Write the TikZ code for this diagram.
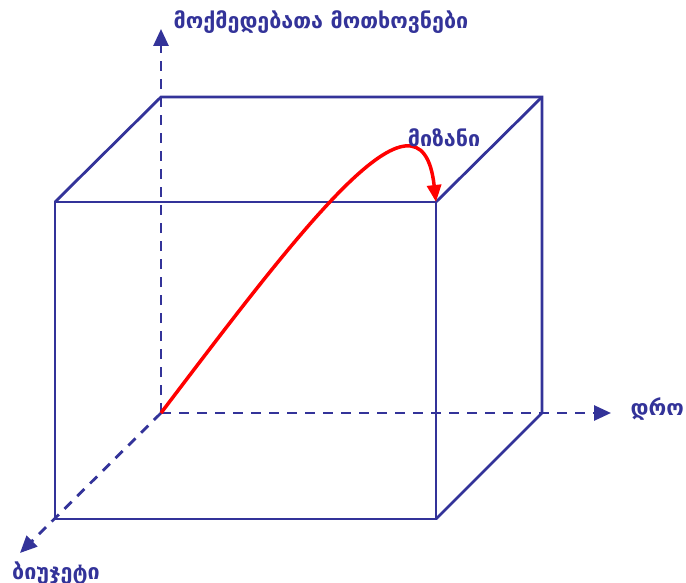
\documentclass[tikz,border=0pt]{standalone}
\usepackage{fontspec}
\newfontfamily\geo{DejaVu Sans}
\usetikzlibrary{arrows.meta}
\definecolor{navy}{RGB}{51,51,153}
\begin{document}
\begin{tikzpicture}[x=1pt,y=-1pt,
  edge/.style={draw=navy,line width=2.8pt},
  axis/.style={draw=navy,line width=2.8pt,dash pattern=on 10pt off 8pt,-{Triangle[length=17pt,width=15pt]}},
  lbl/.style={text=navy,font=\geo\bfseries\fontsize{21.5}{24}\selectfont,inner sep=0pt},
  goal/.style={draw=red,line width=3.5pt,-{Triangle[length=17pt,width=14pt]}}]
\useasboundingbox (0,0) rectangle (686,583);
% front face
\coordinate (FTL) at (55,202);
\coordinate (FTR) at (436,202);
\coordinate (FBR) at (436,519);
\coordinate (FBL) at (55,519);
% back face
\coordinate (O) at (161,413);
\coordinate (BTL) at (161,97);
\coordinate (BTR) at (542,97);
\coordinate (BBR) at (542,413);
% axis ends
\coordinate (Yend) at (161,29);
\coordinate (Xend) at (611,413);
\coordinate (Zend) at (20,553);
% axes
\draw[axis] (O) -- (Yend);
\draw[axis] (O) -- (Xend);
\draw[axis] (O) -- (Zend);
% solid edges
\draw[edge] (FTL) -- (FTR) -- (FBR) -- (FBL) -- cycle;
\draw[edge] (FTL) -- (BTL) -- (BTR) -- (BBR) -- (FBR);
\draw[edge] (FTR) -- (BTR);
% goal curve
\draw[goal] (O) .. controls (300,230) and (421,68) .. (FTR);
% labels
\node[lbl] (req) at (321,22) {მოქმედებათა მოთხოვნები};
\node[lbl] (goalt) at (444,138) {მიზანი};
\node[lbl,anchor=east] (time) at (684,409) {დრო};
\node[lbl] (budget) at (56,573) {ბიუჯეტი};
\end{tikzpicture}
\end{document}
